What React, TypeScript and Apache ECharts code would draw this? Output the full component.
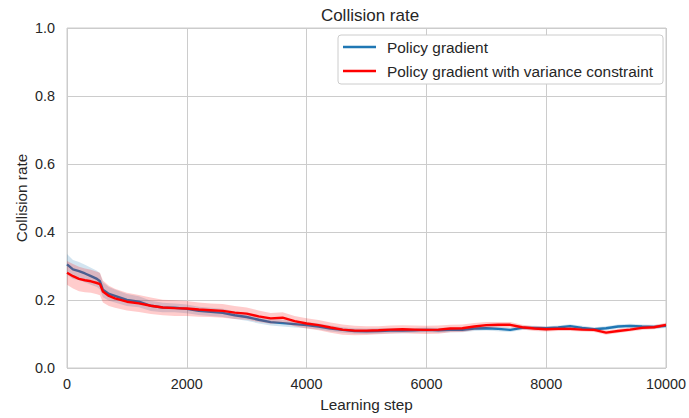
import React, { useEffect, useRef } from "react";
import * as echarts from "echarts";

const steps = [0, 100, 200, 300, 400, 500, 550, 600, 700, 800, 1000, 1200, 1400, 1600, 1800, 2000, 2200, 2400, 2600, 2800, 3000, 3200, 3400, 3600, 3800, 4000, 4200, 4400, 4600, 4800, 5000, 5200, 5400, 5600, 5800, 6000, 6200, 6400, 6600, 6800, 7000, 7200, 7400, 7600, 7800, 8000, 8200, 8400, 8600, 8800, 9000, 9200, 9400, 9600, 9800, 10000];

const pgMean = [0.305, 0.29, 0.285, 0.278, 0.27, 0.262, 0.255, 0.23, 0.218, 0.212, 0.2, 0.195, 0.183, 0.178, 0.177, 0.174, 0.168, 0.165, 0.162, 0.155, 0.15, 0.142, 0.135, 0.132, 0.129, 0.126, 0.122, 0.116, 0.112, 0.109, 0.108, 0.109, 0.11, 0.11, 0.111, 0.112, 0.111, 0.112, 0.112, 0.116, 0.117, 0.115, 0.112, 0.118, 0.118, 0.117, 0.119, 0.123, 0.118, 0.114, 0.117, 0.122, 0.124, 0.122, 0.121, 0.124];

const vcMean = [0.28, 0.27, 0.262, 0.258, 0.255, 0.25, 0.247, 0.225, 0.212, 0.205, 0.195, 0.19, 0.183, 0.178, 0.176, 0.175, 0.172, 0.17, 0.168, 0.163, 0.16, 0.152, 0.146, 0.148, 0.138, 0.131, 0.126, 0.119, 0.113, 0.11, 0.11, 0.111, 0.113, 0.114, 0.113, 0.112, 0.113, 0.116, 0.117, 0.122, 0.126, 0.127, 0.127, 0.12, 0.116, 0.114, 0.115, 0.115, 0.113, 0.112, 0.104, 0.109, 0.113, 0.118, 0.12, 0.127];

const pgSpread = [0.03, 0.028, 0.027, 0.026, 0.025, 0.024, 0.024, 0.022, 0.02, 0.019, 0.018, 0.016, 0.015, 0.014, 0.013, 0.013, 0.012, 0.012, 0.012, 0.011, 0.011, 0.011, 0.01, 0.01, 0.01, 0.009, 0.009, 0.009, 0.008, 0.008, 0.008, 0.008, 0.008, 0.008, 0.007, 0.007, 0.007, 0.007, 0.007, 0.007, 0.007, 0.007, 0.006, 0.006, 0.006, 0.006, 0.006, 0.006, 0.006, 0.006, 0.006, 0.006, 0.006, 0.006, 0.006, 0.006];

const vcSpread = [0.035, 0.036, 0.036, 0.035, 0.034, 0.033, 0.033, 0.032, 0.03, 0.028, 0.026, 0.025, 0.024, 0.023, 0.023, 0.022, 0.021, 0.02, 0.02, 0.019, 0.018, 0.017, 0.016, 0.016, 0.015, 0.015, 0.015, 0.015, 0.015, 0.014, 0.013, 0.012, 0.012, 0.012, 0.012, 0.012, 0.012, 0.011, 0.011, 0.01, 0.009, 0.008, 0.008, 0.007, 0.007, 0.007, 0.006, 0.006, 0.006, 0.006, 0.006, 0.006, 0.006, 0.006, 0.006, 0.006];

const yTicks = [0, 0.2, 0.4, 0.6, 0.8, 1.0];

const FONT = "Liberation Sans";
const BLUE = "#1f77b4";
const RED = "#ff0000";
const TXT = "#262626";

function bandSeries(name: string, mean: number[], spread: number[], color: string, z: number) {
  return {
    name: name + "_band",
    type: "custom",
    silent: true,
    z,
    data: [[steps[0], mean[0]]],
    renderItem: (params: any, api: any) => {
      const upper = steps.map((s, i) => api.coord([s, mean[i] + spread[i]]));
      const lower = steps.map((s, i) => api.coord([s, mean[i] - spread[i]])).reverse();
      return {
        type: "polygon",
        shape: { points: upper.concat(lower) },
        style: { fill: color, opacity: 0.2 },
        silent: true,
      };
    },
  };
}

export default function App() {
  const ref = useRef<HTMLDivElement>(null);
  useEffect(() => {
    if (!ref.current) return;
    const chart = echarts.init(ref.current, undefined, { renderer: "svg" });
    chart.setOption({
      animation: false,
      backgroundColor: "#ffffff",
      textStyle: { fontFamily: FONT },
      title: {
        text: "Collision rate",
        left: 365,
        top: 2,
        textAlign: "center",
        textStyle: { fontFamily: FONT, fontSize: 17, fontWeight: "normal", color: TXT },
      },
      legend: {
        data: ["Policy gradient", "Policy gradient with variance constraint"],
        orient: "vertical",
        left: 338,
        top: 35,
        padding: [3.5, 10, 4.5, 5],
        itemGap: 7,
        icon: "rect",
        itemWidth: 33,
        itemHeight: 2.5,
        backgroundColor: "#ffffff",
        borderColor: "#cccccc",
        borderWidth: 1,
        borderRadius: 3,
        textStyle: { fontFamily: FONT, fontSize: 15.4, lineHeight: 17, color: TXT, padding: [0, 0, 0, 6] },
      },
      grid: { left: 67, right: 22, top: 28, bottom: 50, show: true, borderColor: "#cccccc", borderWidth: 1 },
      xAxis: {
        type: "value",
        min: 0,
        max: 10000,
        interval: 2000,
        name: "Learning step",
        nameLocation: "middle",
        nameGap: 29,
        nameMoveOverlap: false,
        nameTextStyle: { fontFamily: FONT, fontSize: 15.3, color: TXT },
        axisLine: { show: false },
        axisTick: { show: false },
        axisLabel: { fontFamily: FONT, fontSize: 14.4, color: TXT, margin: 9, formatter: (v: number) => String(v) },
        splitLine: { show: true, lineStyle: { color: "#cccccc", width: 1 } },
      },
      yAxis: {
        type: "value",
        min: 0,
        max: 1.0,
        interval: 0.2,
        name: "Collision rate",
        nameLocation: "middle",
        nameGap: 38,
        nameMoveOverlap: false,
        nameTextStyle: { fontFamily: FONT, fontSize: 15.3, color: TXT },
        axisLine: { show: false },
        axisTick: { show: false },
        axisLabel: {
          fontFamily: FONT,
          fontSize: 14.4,
          color: TXT,
          margin: 12,
          formatter: (v: number) => (yTicks.some((t) => Math.abs(t - v) < 1e-9) ? v.toFixed(1) : ""),
        },
        splitLine: { show: true, lineStyle: { color: "#cccccc", width: 1 } },
      },
      series: [
        bandSeries("pg", pgMean, pgSpread, BLUE, 1),
        {
          name: "Policy gradient",
          type: "line",
          data: steps.map((s, i) => [s, pgMean[i]]),
          showSymbol: false,
          symbol: "none",
          color: BLUE,
          lineStyle: { color: BLUE, width: 2.4 },
          z: 2,
        },
        bandSeries("vc", vcMean, vcSpread, RED, 3),
        {
          name: "Policy gradient with variance constraint",
          type: "line",
          data: steps.map((s, i) => [s, vcMean[i]]),
          showSymbol: false,
          symbol: "none",
          color: RED,
          lineStyle: { color: RED, width: 2.4 },
          z: 4,
        },
      ],
    });
    return () => chart.dispose();
  }, []);
  return <div ref={ref} style={{ width: 689, height: 418, position: "absolute", left: 0, top: 0 }} />;
}
